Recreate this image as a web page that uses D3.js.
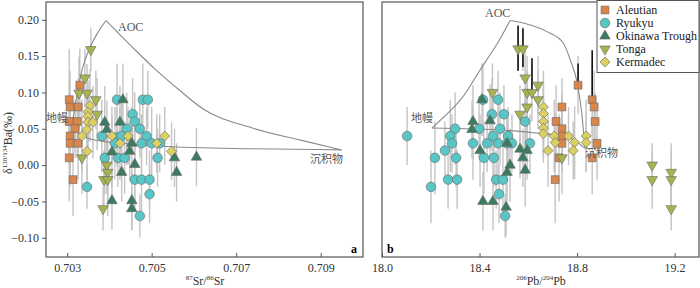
<!DOCTYPE html>
<meta charset="utf-8">
<script src="https://d3js.org/d3.v7.min.js"></script>
<style>
  body { margin: 0; background: #fff; }
  text { font-family: "Liberation Serif", "Times New Roman", serif; }
</style>
<div id="chart"></div>
<script>

// ---- data: [x, delta138/134Ba, 2SD] ----
// panel a : 87Sr/86Sr
var aleutianA = [[0.70330,0.110,0.05],[0.70305,0.090,0.07],[0.70307,0.080,0.05],[0.70326,0.080,0.04],
  [0.70305,0.060,0.06],[0.70324,0.060,0.05],[0.70319,0.050,0.04],[0.70307,0.040,0.05],
  [0.70307,0.030,0.06],[0.70326,0.030,0.05],[0.70305,0.010,0.06],[0.70314,-0.020,0.05]];
var ryukyuA = [[0.70418,0.090,0.05],[0.70479,0.090,0.05],[0.70491,0.090,0.04],[0.70455,0.070,0.05],
  [0.70460,0.060,0.04],[0.70441,0.050,0.05],[0.70472,0.050,0.04],[0.70382,0.040,0.05],
  [0.70418,0.038,0.04],[0.70429,0.040,0.05],[0.70488,0.040,0.04],[0.70413,0.030,0.05],
  [0.70476,0.030,0.04],[0.70500,0.030,0.05],[0.70389,0.010,0.05],[0.70420,0.010,0.04],
  [0.70436,0.010,0.05],[0.70514,0.010,0.04],[0.70347,-0.030,0.03],[0.70460,-0.020,0.04],
  [0.70476,-0.020,0.05],[0.70495,-0.020,0.04],[0.70495,-0.040,0.04],[0.70472,-0.070,0.03],
  [0.70519,0.030,0.04]];
var okinawaA = [[0.70432,0.090,0.05],[0.70389,0.059,0.05],[0.70425,0.059,0.05],[0.70394,0.049,0.04],
  [0.70406,0.018,0.05],[0.70448,0.019,0.04],[0.70453,0.030,0.05],[0.70460,0.001,0.05],
  [0.70429,-0.010,0.04],[0.70554,0.010,0.04],[0.70559,-0.010,0.04],[0.70606,0.011,0.04],
  [0.70406,-0.049,0.04],[0.70453,-0.049,0.04],[0.70453,-0.060,0.03]];
var tongaA = [[0.70356,0.159,0.03],[0.70342,0.120,0.04],[0.70328,0.099,0.05],[0.70347,0.099,0.04],
  [0.70368,0.090,0.04],[0.70371,0.070,0.05],[0.70335,0.010,0.05],[0.70394,0.000,0.04],
  [0.70396,-0.010,0.05],[0.70387,-0.020,0.04],[0.70396,-0.020,0.05],[0.70385,-0.060,0.03]];
var kermadecA = [[0.70354,0.082,0.05],[0.70349,0.073,0.04],[0.70349,0.067,0.05],[0.70349,0.059,0.04],
  [0.70361,0.059,0.05],[0.70347,0.049,0.04],[0.70335,0.040,0.05],[0.70347,0.019,0.04],
  [0.70406,0.040,0.04],[0.70444,0.040,0.04],[0.70425,0.030,0.05],[0.70512,0.030,0.04],
  [0.70531,0.040,0.04],[0.70547,0.019,0.04]];

// panel b : 206Pb/204Pb
var aleutianB = [[18.804,0.110,0.04],[18.862,0.090,0.05],[18.870,0.080,0.05],[18.738,0.080,0.04],
  [18.714,0.060,0.05],[18.874,0.060,0.04],[18.738,0.050,0.05],[18.738,0.040,0.05],
  [18.738,0.030,0.04],[18.882,0.030,0.05],[18.726,0.010,0.06],[18.862,0.010,0.05],[18.710,-0.020,0.06]];
var ryukyuB = [[18.103,0.040,0.04],[18.300,0.050,0.05],[18.280,0.040,0.05],[18.287,0.030,0.04],
  [18.258,0.020,0.04],[18.217,0.010,0.05],[18.304,0.010,0.04],[18.271,-0.020,0.04],
  [18.308,-0.020,0.04],[18.201,-0.030,0.05],[18.414,0.090,0.05],[18.476,0.090,0.04],
  [18.451,0.070,0.05],[18.500,0.070,0.04],[18.398,0.050,0.04],[18.484,0.050,0.05],
  [18.373,0.030,0.05],[18.431,0.030,0.04],[18.476,0.030,0.05],[18.513,0.030,0.04],
  [18.455,0.040,0.05],[18.517,0.040,0.04],[18.418,0.010,0.05],[18.459,0.010,0.04],
  [18.468,-0.020,0.04],[18.496,-0.020,0.05],[18.480,-0.040,0.04],[18.505,-0.070,0.03],
  [18.587,0.060,0.04],[18.533,0.030,0.04],[18.607,0.030,0.04]];
var okinawaB = [[18.410,0.090,0.05],[18.373,0.060,0.05],[18.369,0.049,0.04],[18.443,0.061,0.05],
  [18.402,0.020,0.05],[18.513,0.030,0.04],[18.525,0.000,0.05],[18.513,-0.010,0.04],
  [18.414,-0.050,0.04],[18.455,-0.050,0.04],[18.509,-0.058,0.04],[18.566,0.022,0.04],
  [18.595,0.020,0.04],[18.578,0.010,0.04],[18.587,-0.007,0.05]];
var tongaB = [[18.453,0.100,0.04],[18.558,0.160,0.03],[18.578,0.160,0.03],[18.587,0.120,0.04],
  [18.640,0.110,0.04],[18.595,0.100,0.05],[18.615,0.100,0.04],[18.640,0.090,0.04],
  [18.595,0.080,0.05],[18.566,0.070,0.04],[18.738,0.010,0.05],[19.108,0.000,0.03],
  [19.186,-0.010,0.04],[19.186,-0.020,0.04],[19.108,-0.020,0.04],[19.186,-0.060,0.03]];
var kermadecB = [[18.662,0.080,0.05],[18.662,0.071,0.04],[18.662,0.060,0.05],[18.662,0.051,0.04],
  [18.706,0.040,0.05],[18.765,0.040,0.04],[18.837,0.040,0.05],[18.710,0.031,0.04],
  [18.790,0.031,0.05],[18.837,0.031,0.04],[18.681,0.020,0.05],[18.784,0.020,0.04],[18.662,0.043,0.04]];
// dark (Pb) error bars in panel b: [x, yFrom, yTo]
var darkBarsB = [[18.558,0.130,0.192],[18.578,0.135,0.188],[18.615,0.100,0.147],
  [18.804,0.110,0.140],[18.862,0.090,0.158]];

// mixing curves
var aocSedA = [[0.70392,0.199],[0.70455,0.162],[0.70512,0.130],[0.70566,0.103],[0.70620,0.078],
  [0.70738,0.051],[0.70855,0.034],[0.70949,0.021]];
var mantleAocA = [[0.70312,0.056],[0.70321,0.089],[0.70331,0.120],[0.70338,0.137],[0.70349,0.155],
  [0.70371,0.181],[0.70392,0.199]];
var mantleSedA = [[0.70312,0.056],[0.70326,0.045],[0.70349,0.037],[0.70382,0.033],[0.70448,0.029],
  [0.70559,0.025],[0.70949,0.021]];
var mantleAocB = [[18.205,0.051],[18.320,0.089],[18.402,0.131],[18.476,0.169],[18.525,0.199]];
var aocSedB = [[18.525,0.199],[18.587,0.195],[18.681,0.183],[18.743,0.168],[18.775,0.142],
  [18.800,0.114],[18.820,0.069],[18.828,0.040],[18.833,0.023]];
var mantleSedB = [[18.205,0.051],[18.505,0.048],[18.640,0.044],[18.722,0.041],[18.779,0.036],
  [18.833,0.023]];

var ticksY = [-0.10, -0.05, 0.00, 0.05, 0.10, 0.15, 0.20];
var ticksA = [0.703, 0.705, 0.707, 0.709];
var ticksB = [18.0, 18.4, 18.8, 19.2];
var seriesNames = ["Aleutian", "Ryukyu", "Okinawa Trough", "Tonga", "Kermadec"];

// ---- styling ----
var colors = ["#d8864b", "#58c5c6", "#3b7c61", "#a7b44e", "#dbd062"];
var shapes = [
  d3.symbol().type(d3.symbolSquare).size(62),
  d3.symbol().type(d3.symbolCircle).size(72),
  d3.symbol().type(d3.symbolTriangle).size(48),
  d3.symbol().type(d3.symbolTriangle).size(48),
  d3.symbol().type(d3.symbolSquare).size(50)
];
var rotate = [0, 0, 0, 180, 45];

var svg = d3.select("#chart").append("svg")
  .attr("width", 700).attr("height", 288);

var y = d3.scaleLinear().domain([-0.1265, 0.2245]).range([257, 2]);
var xa = d3.scaleLinear().domain([0.7025, 0.7100]).range([46, 363]);
var xb = d3.scaleLinear().domain([18.0, 19.3]).range([382, 699]);

function panel(x, data, curves, ticks, fmt, darkBars) {
  var g = svg.append("g");

  // error bars
  data.forEach(function(s) {
    g.selectAll(null).data(s).enter().append("line")
      .attr("x1", function(d) { return x(d[0]); })
      .attr("x2", function(d) { return x(d[0]); })
      .attr("y1", function(d) { return y(d[1] - d[2]); })
      .attr("y2", function(d) { return y(d[1] + d[2]); })
      .attr("stroke", "#c4c4c4").attr("stroke-width", 1.4);
  });
  if (darkBars) {
    g.selectAll(null).data(darkBars).enter().append("line")
      .attr("x1", function(d) { return x(d[0]); })
      .attr("x2", function(d) { return x(d[0]); })
      .attr("y1", function(d) { return y(d[1]); })
      .attr("y2", function(d) { return y(d[2]); })
      .attr("stroke", "#111").attr("stroke-width", 1.6);
  }

  // mixing lines
  var line = d3.line().x(function(d) { return x(d[0]); }).y(function(d) { return y(d[1]); })
    .curve(d3.curveMonotoneX);
  var lineY = d3.line().x(function(d) { return x(d[0]); }).y(function(d) { return y(d[1]); })
    .curve(d3.curveMonotoneY);
  curves.forEach(function(c, i) {
    g.append("path").attr("d", (i === 0 ? lineY : line)(c))
      .attr("fill", "none").attr("stroke", "#8a8a8a").attr("stroke-width", 1.1);
  });

  // points
  data.forEach(function(s, i) {
    g.selectAll(null).data(s).enter().append("path")
      .attr("d", shapes[i])
      .attr("transform", function(d) {
        return "translate(" + x(d[0]) + "," + y(d[1]) + ") rotate(" + rotate[i] + ")";
      })
      .attr("fill", colors[i]).attr("stroke", "#666").attr("stroke-width", 0.6);
  });

  // frame
  var r = x.range(), yr = y.range();
  g.append("rect").attr("x", r[0]).attr("y", yr[1])
    .attr("width", r[1] - r[0]).attr("height", yr[0] - yr[1])
    .attr("fill", "none").attr("stroke", "#555").attr("stroke-width", 1.2);

  // x axis
  var ax = g.append("g").attr("transform", "translate(0,257)")
    .call(d3.axisBottom(x).tickValues(ticks).tickFormat(d3.format(fmt))
      .tickSizeInner(-4).tickSizeOuter(0).tickPadding(6));
  ax.select(".domain").remove();
  ax.selectAll("line").attr("stroke", "#555");
  ax.selectAll("text").attr("font-size", 12).attr("fill", "#333")
    .style("font-family", "'Liberation Serif', serif");
  return g;
}

var ga = panel(xa, [aleutianA, ryukyuA, okinawaA, tongaA, kermadecA],
  [mantleAocA, aocSedA, mantleSedA], ticksA, ".3f");
var gb = panel(xb, [aleutianB, ryukyuB, okinawaB, tongaB, kermadecB],
  [mantleAocB, aocSedB, mantleSedB], ticksB, ".1f", darkBarsB);

// y axis (panel a)
var ay = svg.append("g").attr("transform", "translate(46,0)")
  .call(d3.axisLeft(y).tickValues(ticksY).tickFormat(d3.format(".2f"))
    .tickSizeInner(4).tickSizeOuter(0).tickPadding(3));
ay.select(".domain").remove();
ay.selectAll("line").attr("stroke", "#555");
ay.selectAll("text").attr("font-size", 12).attr("fill", "#333")
  .style("font-family", "'Liberation Serif', serif");

// axis titles
var yt = svg.append("text").attr("transform", "translate(12,143) rotate(-90)")
  .attr("text-anchor", "middle").attr("font-size", 12).attr("fill", "#333");
yt.append("tspan").text("δ");
yt.append("tspan").attr("font-size", 7).attr("dy", -5).text("138/134");
yt.append("tspan").attr("dy", 5).text("Ba(‰)");

function pbLabel(cx, a, b, c, d) {
  var t = svg.append("text").attr("x", cx).attr("y", 285)
    .attr("text-anchor", "middle").attr("font-size", 12).attr("fill", "#333");
  t.append("tspan").attr("font-size", 7).attr("dy", -5).text(a);
  t.append("tspan").attr("dy", 5).text(b + "/");
  t.append("tspan").attr("font-size", 7).attr("dy", -5).text(c);
  t.append("tspan").attr("dy", 5).text(d);
}
pbLabel(205, "87", "Sr", "86", "Sr");
pbLabel(541, "206", "Pb", "204", "Pb");

// panel letters
svg.append("text").attr("x", 351).attr("y", 253).attr("font-size", 12)
  .attr("font-weight", "bold").text("a");
svg.append("text").attr("x", 387).attr("y", 253).attr("font-size", 12)
  .attr("font-weight", "bold").text("b");

// end-member labels
function note(x, yy, s, cjk) {
  svg.append("text").attr("x", x).attr("y", yy).attr("font-size", cjk ? 11 : 12)
    .attr("fill", "#555")
    .style("font-family", cjk ? "'Noto Sans CJK SC', sans-serif" : "'Liberation Serif', serif")
    .text(s);
}
note(118, 31, "AOC");
note(46, 122, "地幔", true);
note(310, 163, "沉积物", true);
note(485, 17, "AOC");
note(411, 122, "地幔", true);
note(585, 157, "沉积物", true);

// legend
var lg = svg.append("g");
lg.append("rect").attr("x", 597).attr("y", 0.5).attr("width", 102).attr("height", 72)
  .attr("fill", "#fff").attr("stroke", "#555").attr("stroke-width", 1);
seriesNames.forEach(function(n, i) {
  var yy = 10 + i * 13;
  lg.append("path").attr("d", shapes[i])
    .attr("transform", "translate(605," + yy + ") rotate(" + rotate[i] + ")")
    .attr("fill", colors[i]).attr("stroke", "#666").attr("stroke-width", 0.6);
  lg.append("text").attr("x", 616).attr("y", yy + 4).attr("font-size", 12)
    .attr("fill", "#222").text(n);
});

</script>
